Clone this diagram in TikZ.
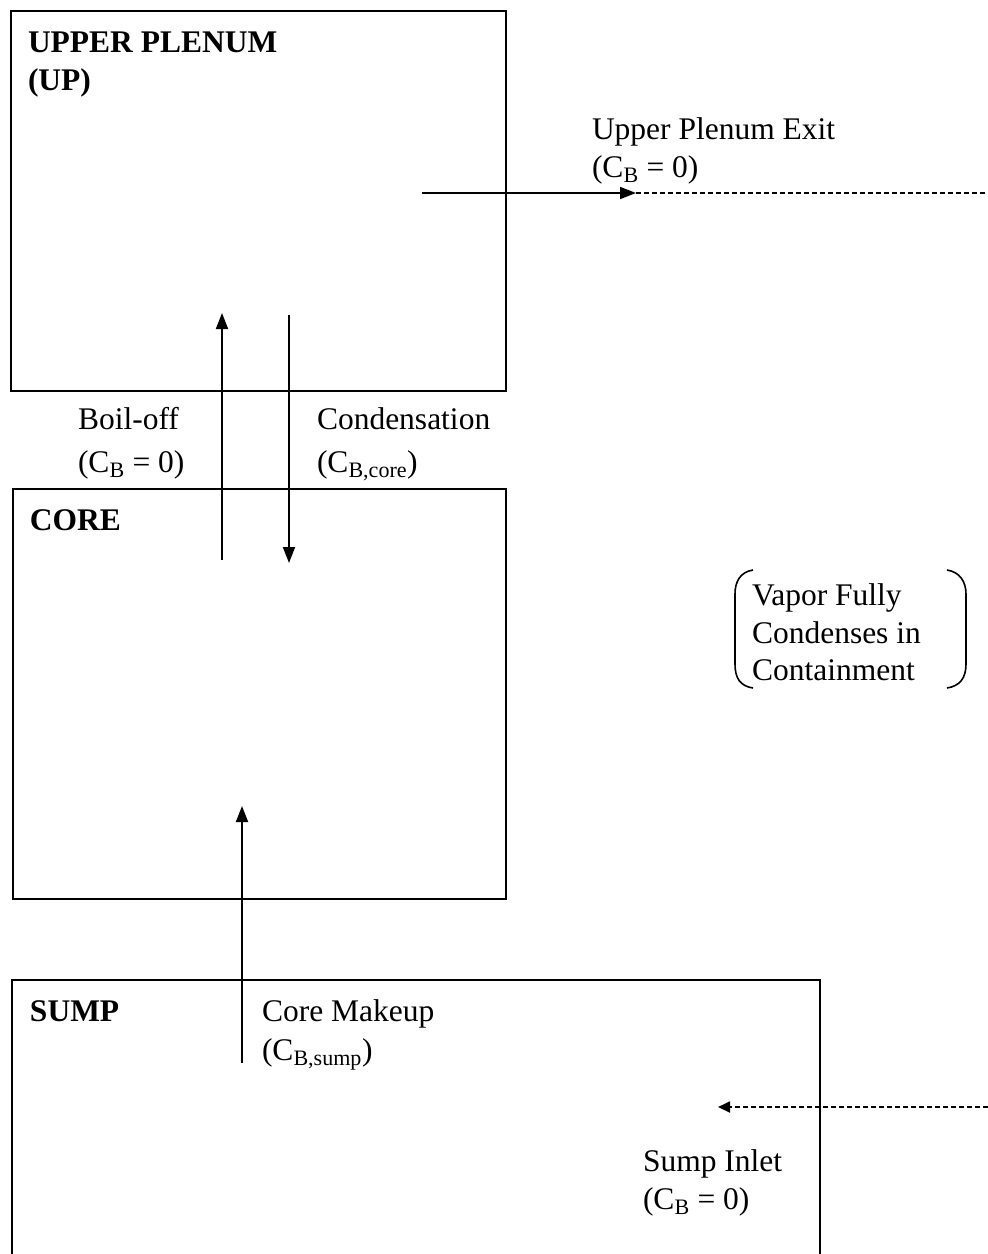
\documentclass[tikz,border=0pt]{standalone}
\usepackage{fontspec}
\setmainfont{Liberation Serif}
\usetikzlibrary{arrows.meta}
\begin{document}
\begin{tikzpicture}[x=1pt,y=-1pt,
  lbl/.style={anchor=base west,inner sep=0pt,outer sep=0pt,font=\fontsize{31.5}{38}\selectfont},
  ttl/.style={lbl,font=\fontsize{31.5}{38}\selectfont\bfseries},
  boxline/.style={line width=1.8pt},
  flow/.style={line width=1.8pt,-{Triangle[length=16pt,width=12pt]}},
  dflow/.style={line width=1.8pt,dash pattern=on 5pt off 3pt},
  paren/.style={line width=1.6pt}]
\useasboundingbox (0,0) rectangle (988,1254);
% boxes
\node[draw,boxline,anchor=north west,minimum width=495pt,minimum height=380pt,inner sep=0pt] (up) at (10,10) {};
\node[draw,boxline,anchor=north west,minimum width=493pt,minimum height=410pt,inner sep=0pt] (core) at (12,488) {};
\coordinate (sumpbl) at (12,1262);
\coordinate (sumptl) at (12,980);
\coordinate (sumptr) at (820,980);
\coordinate (sumpbr) at (820,1262);
\draw[boxline] (sumpbl) -- (sumptl) -- (sumptr) -- (sumpbr);
% titles
\node[ttl] (upt1) at (28,52) {UPPER PLENUM};
\node[ttl] (upt2) at (28,90) {(UP)};
\node[ttl] (coret) at (30,530) {CORE};
\node[ttl] (sumpt) at (30,1021) {SUMP};
% labels
\node[lbl] (ex1) at (592,139) {Upper Plenum Exit};
\node[lbl] (ex2) at (592,177) {(C\textsubscript{B} = 0)};
\node[lbl] (bo1) at (78,429) {Boil-off};
\node[lbl] (bo2) at (78,472) {(C\textsubscript{B} = 0)};
\node[lbl] (co1) at (317,429) {Condensation};
\node[lbl] (co2) at (317,472) {(C\textsubscript{B,core})};
\node[lbl] (va1) at (752,605) {Vapor Fully};
\node[lbl] (va2) at (752,643) {Condenses in};
\node[lbl] (va3) at (752,680) {Containment};
\node[lbl] (mk1) at (262,1021) {Core Makeup};
\node[lbl] (mk2) at (262,1060) {(C\textsubscript{B,sump})};
\node[lbl] (si1) at (643,1171) {Sump Inlet};
\node[lbl] (si2) at (643,1209) {(C\textsubscript{B} = 0)};
% brackets
\draw[paren] (753,570) .. controls (740,572) and (735,582) .. (735,594) -- (735,664) .. controls (735,678) and (740,686) .. (753,688);
\draw[paren] (947,570) .. controls (960,572) and (966,582) .. (966,594) -- (966,664) .. controls (966,678) and (960,686) .. (947,688);
% connectors
\coordinate (exA) at (422,193);
\coordinate (exB) at (636,193);
\coordinate (exC) at (988,193);
\draw[flow] (exA) -- (exB);
\draw[dflow] (exB) -- (exC);
\coordinate (boA) at (222,560);
\coordinate (boB) at (222,313);
\draw[flow] (boA) -- (boB);
\coordinate (cdA) at (289,315);
\coordinate (cdB) at (289,563);
\draw[flow] (cdA) -- (cdB);
\coordinate (mkA) at (242,1063);
\coordinate (mkB) at (242,806);
\draw[flow] (mkA) -- (mkB);
\coordinate (siA) at (988,1107);
\coordinate (siB) at (718,1107);
\draw[dflow,-{Triangle[length=12pt,width=11pt]}] (siA) -- (siB);
\end{tikzpicture}
\end{document}
